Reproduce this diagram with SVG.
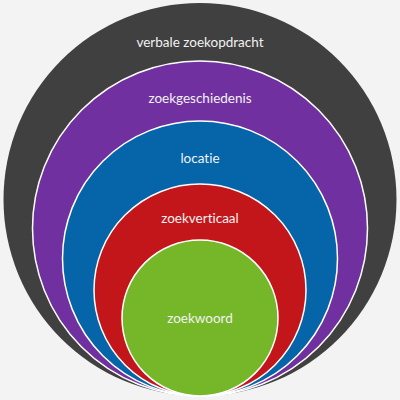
<svg xmlns="http://www.w3.org/2000/svg" width="400" height="400" viewBox="0 0 400 400">
<style>
.c{stroke:#ffffff;stroke-width:1.5}
.t{font-family:Lato,"Open Sans","Noto Sans",sans-serif;font-size:13.5px;fill:#f2f2f2;text-anchor:middle;font-variant-ligatures:none;font-feature-settings:"liga" 0,"dlig" 0}
</style>
<rect width="400" height="400" fill="#f3f3f3"/>
<g id="verbale-zoekopdracht">
<circle cx="200" cy="199.5" r="196.5" fill="#404040"/>
<text class="t" x="200" y="47">verbale zoekopdracht</text>
</g>
<g id="zoekgeschiedenis">
<circle class="c" cx="200" cy="228.5" r="167.5" fill="#7030a0"/>
<text class="t" x="200" y="103">zoekgeschiedenis</text>
</g>
<g id="locatie">
<circle class="c" cx="200" cy="258.5" r="137.5" fill="#0565a8"/>
<text class="t" x="200" y="163">locatie</text>
</g>
<g id="zoekverticaal">
<circle class="c" cx="200" cy="290" r="106" fill="#c3161b"/>
<text class="t" x="200" y="223">zoekverticaal</text>
</g>
<g id="zoekwoord">
<circle class="c" cx="200" cy="318" r="78" fill="#76b72a"/>
<text class="t" x="200" y="323">zoekwoord</text>
</g>
</svg>
